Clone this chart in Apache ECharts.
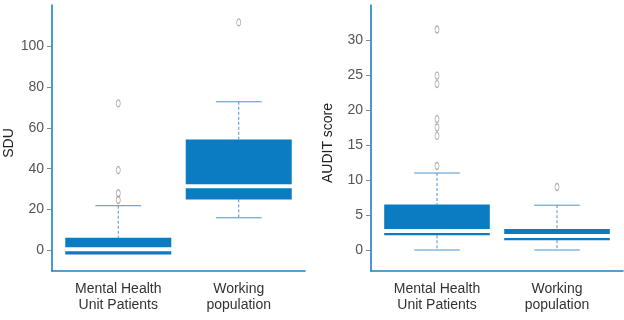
<!DOCTYPE html>
<html>
<head>
<meta charset="utf-8">
<script src="https://cdn.jsdelivr.net/npm/echarts@6/dist/echarts.min.js"></script>
<style>
  html, body { margin: 0; padding: 0; background: #fff; }
  #chart { width: 624px; height: 320px; }
</style>
</head>
<body>
<div id="chart"></div>
<script>
// categories on both panels
var categories = ['Mental Health\nUnit Patients', 'Working\npopulation'];

// box stats per group: [x, low whisker, q1, median, q3, high whisker]
var sduBoxes = [
  [1, -1.9, -1.9, 0.6, 6.3, 21.9],
  [2, 16.0, 25.0, 31.4, 54.3, 72.7]
];
var sduOutliers = [[1, 71.9], [1, 39.3], [1, 28.0], [1, 24.7], [2, 111.5]];
var sduTicks = [0, 20, 40, 60, 80, 100];

var auditBoxes = [
  [1, 0, 2.1, 2.7, 6.5, 11.0],
  [2, 0, 1.4, 2.0, 3.0, 6.4]
];
var auditOutliers = [
  [1, 31.5], [1, 24.9], [1, 23.7], [1, 18.7], [1, 17.5], [1, 16.3], [1, 12.0],
  [2, 9.0]
];
var auditTicks = [0, 5, 10, 15, 20, 25, 30];

var BLUE = '#0b7cc2';
var AXIS_BLUE = '#1b80c6';
var WHISKER = '#4b93cc';
var FONT = '"Liberation Sans", Arial, sans-serif';

// one box: dashed whiskers, caps, filled box, white gap for the median
function renderBox (params, api) {
  var x = api.value(0);
  var lo = api.coord([x, api.value(1)]);
  var q1 = api.coord([x, api.value(2)]);
  var med = api.coord([x, api.value(3)]);
  var q3 = api.coord([x, api.value(4)]);
  var hi = api.coord([x, api.value(5)]);
  var unit = api.size([1, 0])[0];
  var halfBox = unit * 0.44;
  var halfCap = unit * 0.19;
  var cx = q1[0];
  var kids = [];
  var dash = { stroke: WHISKER, lineWidth: 1, lineDash: [3, 2] };
  var cap = { stroke: WHISKER, lineWidth: 1 };
  if (hi[1] < q3[1] - 0.5) {
    kids.push({ type: 'line', shape: { x1: cx, y1: hi[1], x2: cx, y2: q3[1] }, style: dash });
    kids.push({ type: 'line', shape: { x1: cx - halfCap, y1: hi[1], x2: cx + halfCap, y2: hi[1] }, style: cap });
  }
  if (lo[1] > q1[1] + 0.5) {
    kids.push({ type: 'line', shape: { x1: cx, y1: q1[1], x2: cx, y2: lo[1] }, style: dash });
    kids.push({ type: 'line', shape: { x1: cx - halfCap, y1: lo[1], x2: cx + halfCap, y2: lo[1] }, style: cap });
  }
  kids.push({
    type: 'rect',
    shape: { x: cx - halfBox, y: q3[1], width: halfBox * 2, height: q1[1] - q3[1] },
    style: { fill: BLUE }
  });
  kids.push({
    type: 'line',
    shape: { x1: cx - halfBox - 1, y1: med[1], x2: cx + halfBox + 1, y2: med[1] },
    style: { stroke: '#fff', lineWidth: 4 }
  });
  return { type: 'group', children: kids };
}

function xAxisFor (gridIndex) {
  return {
    type: 'value', gridIndex: gridIndex, min: 0.45, max: 2.55,
    splitLine: { show: false },
    axisTick: { show: false },
    axisLine: { show: true, onZero: false, lineStyle: { color: AXIS_BLUE, width: 1.6 } },
    axisLabel: {
      customValues: [1, 2],
      margin: 10,
      color: '#333',
      fontFamily: FONT,
      fontSize: 14,
      lineHeight: 16,
      formatter: function (v) { return categories[Math.round(v) - 1] || ''; }
    }
  };
}

function yAxisFor (gridIndex, name, min, max, ticks) {
  return {
    type: 'value', gridIndex: gridIndex, min: min, max: max,
    name: name, nameLocation: 'middle', nameGap: 36,
    nameTextStyle: { color: '#222', fontFamily: FONT, fontSize: 14, padding: [0, 10, 0, 0] },
    splitLine: { show: false },
    axisLine: { show: true, onZero: false, lineStyle: { color: AXIS_BLUE, width: 1.6 } },
    axisTick: { show: true, length: 5, customValues: ticks, lineStyle: { color: '#888' } },
    axisLabel: { customValues: ticks, margin: 8, color: '#555', fontFamily: FONT, fontSize: 14 }
  };
}

function outlierSeries (axisIndex, data) {
  return {
    type: 'scatter', xAxisIndex: axisIndex, yAxisIndex: axisIndex,
    data: data, symbol: 'circle', symbolSize: [4, 7],
    itemStyle: { color: 'rgba(0,0,0,0)', borderColor: '#9a9a9a', borderWidth: 1 },
    z: 5
  };
}

var chart = echarts.init(document.getElementById('chart'), null, { renderer: 'canvas' });
chart.setOption({
  animation: false,
  backgroundColor: '#fff',
  grid: [
    { left: 52, top: 5, width: 253, height: 266 },
    { left: 371, top: 5, width: 252, height: 266 }
  ],
  xAxis: [xAxisFor(0), xAxisFor(1)],
  yAxis: [
    yAxisFor(0, 'SDU', -10, 120, sduTicks),
    yAxisFor(1, 'AUDIT score', -3, 35, auditTicks)
  ],
  series: [
    {
      type: 'custom', xAxisIndex: 0, yAxisIndex: 0,
      renderItem: renderBox, data: sduBoxes,
      encode: { x: 0, y: [1, 2, 3, 4, 5] }
    },
    outlierSeries(0, sduOutliers),
    {
      type: 'custom', xAxisIndex: 1, yAxisIndex: 1,
      renderItem: renderBox, data: auditBoxes,
      encode: { x: 0, y: [1, 2, 3, 4, 5] }
    },
    outlierSeries(1, auditOutliers)
  ]
});
</script>
</body>
</html>
